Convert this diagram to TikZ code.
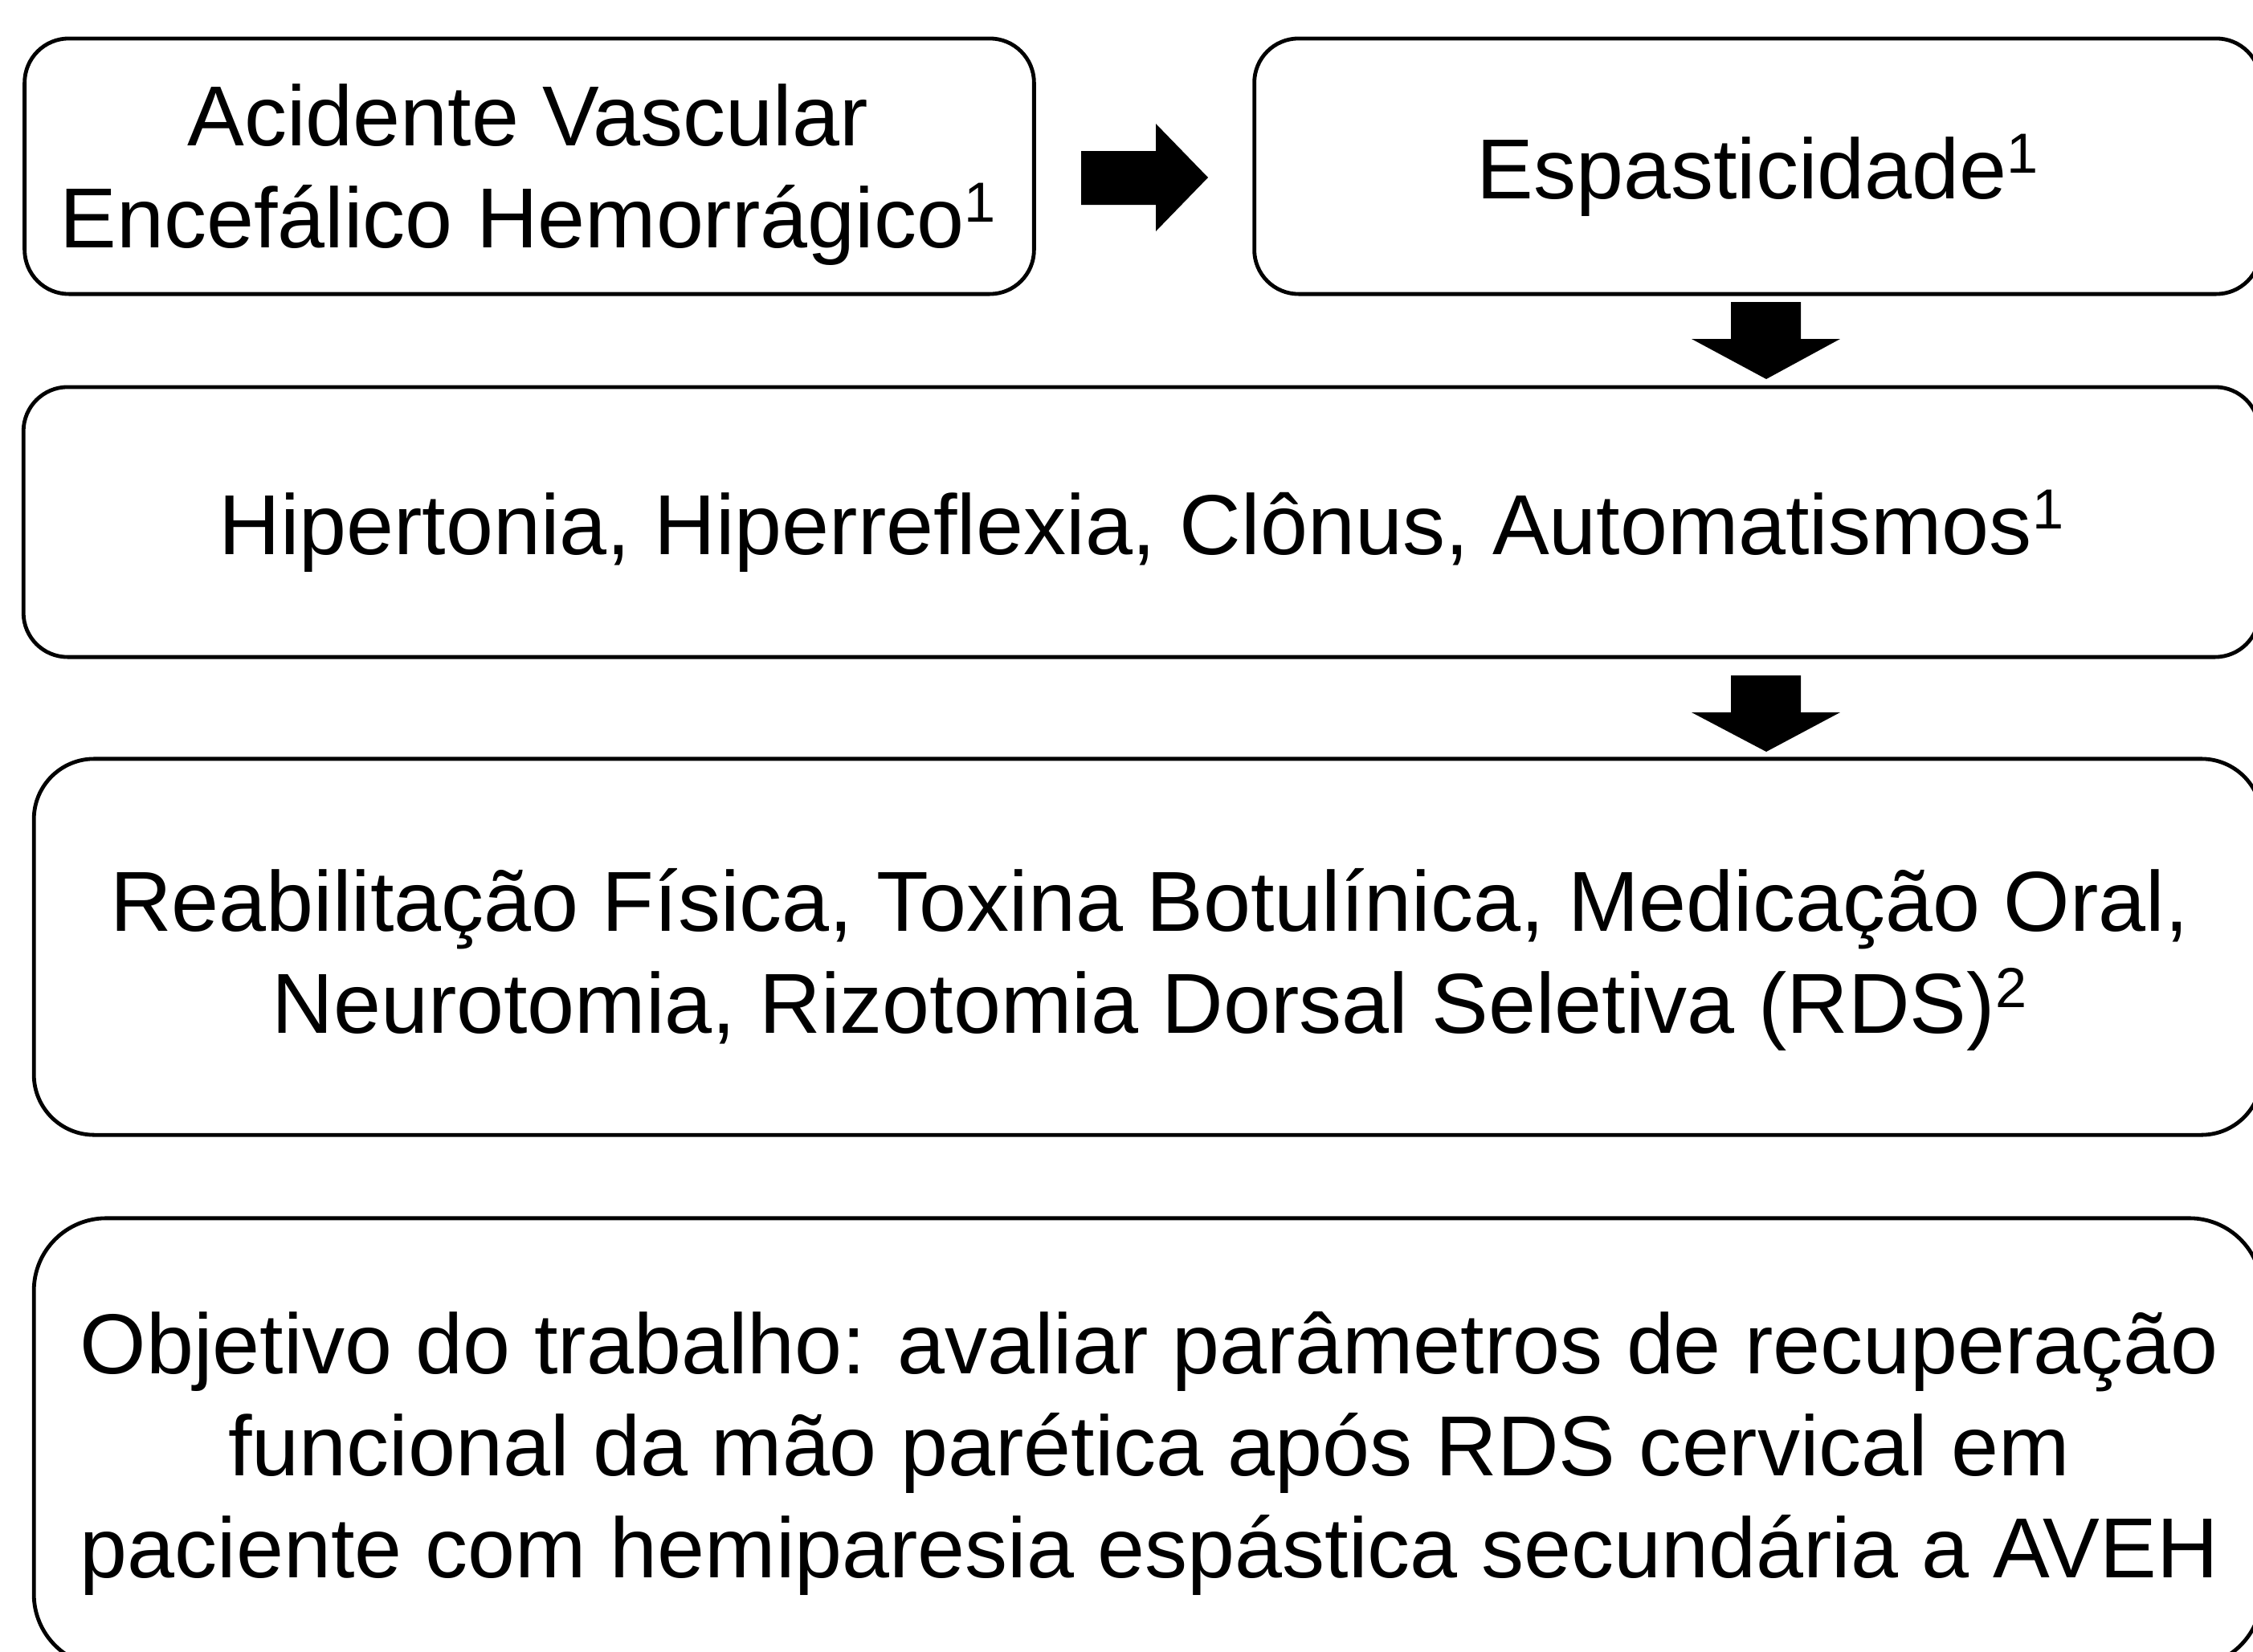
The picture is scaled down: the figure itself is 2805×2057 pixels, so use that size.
\documentclass[tikz,border=0pt]{standalone}
\usepackage{fontspec}
\setmainfont{Liberation Sans}
\newcommand\mysup[1]{\raisebox{0.3em}{\fontsize{20pt}{20pt}\selectfont #1}}
\begin{document}
\begin{tikzpicture}[x=0.01cm,y=-0.01cm,
  box/.style={draw=black, line width=0.048cm, fill=white, rounded corners=0.55cm, inner sep=0pt},
  txt/.style={font=\fontsize{30.16pt}{36.1pt}\selectfont, align=center, inner sep=0pt, anchor=north},
  blk/.style={fill=black}]
\useasboundingbox (0,0) rectangle (2805,2057);
\clip (0,0) rectangle (2805,2057);
\fill[white] (0,0) rectangle (2805,2057);
% boxes
\node[box, minimum width=12.56cm, minimum height=3.18cm] (b1) at (659,207) {};
\node[box, minimum width=12.52cm, minimum height=3.18cm] (b2) at (2188,207) {};
\node[box, minimum width=27.82cm, minimum height=3.36cm] (b3) at (1421,650) {};
\node[box, rounded corners=0.75cm, minimum width=27.72cm, minimum height=4.68cm] (b4) at (1429,1179) {};
\node[box, rounded corners=0.9cm, minimum width=27.72cm, minimum height=5.58cm] (b5) at (1429,1796) {};
% texts
\node[txt] (t1) at (657,75) {\rule{0pt}{1em}Acidente Vascular\\Encefálico Hemorrágico\mysup{1}};
\node[txt] (t2) at (2188,141) {\rule{0pt}{1em}Espasticidade\mysup{1}};
\node[txt] (t3) at (1421,584) {\rule{0pt}{1em}Hipertonia, Hiperreflexia, Clônus, Automatismos\mysup{1}};
\node[txt] (t4) at (1431,1053) {\rule{0pt}{1em}Reabilitação Física, Toxina Botulínica, Medicação Oral,\\Neurotomia, Rizotomia Dorsal Seletiva (RDS)\mysup{2}};
\node[txt] (t5) at (1431,1604) {\rule{0pt}{1em}Objetivo do trabalho: avaliar parâmetros de recuperação\\funcional da mão parética após RDS cervical em\\paciente com hemiparesia espástica secundária a AVEH};
% block arrows
\fill[blk] (1346,188) -- (1439,188) -- (1439,154) -- (1504,221) -- (1439,288) -- (1439,255) -- (1346,255) -- cycle;
\fill[blk] (2155,376) -- (2242,376) -- (2242,422) -- (2291,422) -- (2199,472) -- (2106,422) -- (2155,422) -- cycle;
\fill[blk] (2155,841) -- (2242,841) -- (2242,887) -- (2291,887) -- (2199,936) -- (2106,887) -- (2155,887) -- cycle;
\end{tikzpicture}
\end{document}
